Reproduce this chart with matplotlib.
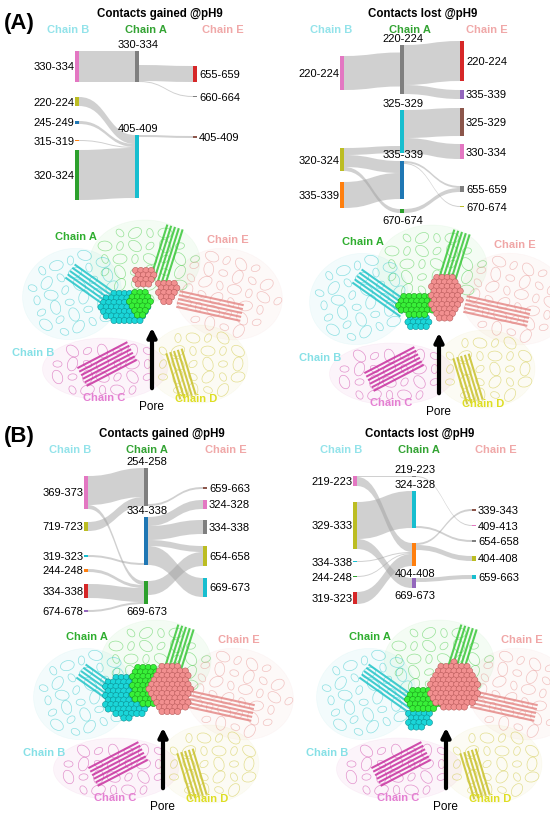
import matplotlib.pyplot as plt
from matplotlib.path import Path
from matplotlib.patches import PathPatch, Rectangle, Ellipse, Circle
import numpy as np

# ---------------- Sankey data: residue windows in contact ----------------
# (A) contacts gained @pH9
a_gain_src = ["B330-334", "A330-334", "A330-334", "B220-224", "B245-249",
              "B315-319", "B320-324", "A405-409"]
a_gain_dst = ["A330-334", "E655-659", "E660-664", "A405-409", "A405-409",
              "A405-409", "A405-409", "E405-409"]
a_gain_val = [31, 16, 1, 9, 3, 1, 50, 2]

# (A) contacts lost @pH9
a_lost_src = ["B220-224", "A220-224", "A220-224", "B320-324", "B320-324",
              "B320-324", "B335-339", "A325-329", "A325-329", "A335-339",
              "A335-339", "A670-674"]
a_lost_dst = ["A220-224", "E220-224", "E335-339", "A325-329", "A335-339",
              "A670-674", "A335-339", "E325-329", "E330-334", "E655-659",
              "E670-674", "E655-659"]
a_lost_val = [34, 40, 9, 7, 12, 4, 26, 28, 15, 2, 1, 4]

# (B) contacts gained @pH9
b_gain_src = ["B369-373", "B369-373", "B719-723", "A254-258", "B319-323",
              "B244-248", "B334-338", "B674-678", "A334-338", "A334-338",
              "A334-338", "A334-338", "A669-673"]
b_gain_dst = ["A254-258", "A669-673", "A254-258", "E659-663", "A334-338",
              "A669-673", "A669-673", "A669-673", "E324-328", "E334-338",
              "E654-658", "E669-673", "E654-658"]
b_gain_val = [29, 4, 9, 2, 2, 3, 14, 2, 9, 14, 6, 19, 14]

# (B) contacts lost @pH9
b_lost_src = ["B219-223", "B219-223", "B329-333", "B329-333", "B334-338",
              "B244-248", "B319-323", "A219-223", "A324-328", "A404-408",
              "A404-408", "A669-673"]
b_lost_dst = ["A219-223", "A404-408", "A324-328", "A669-673", "A404-408",
              "A404-408", "A404-408", "E409-413", "E654-658", "E339-343",
              "E404-408", "E659-663"]
b_lost_val = [1, 9, 37, 10, 1, 1, 12, 1, 2, 2, 5, 4]

# ---------------- layout (pixel positions, colours) ----------------
C10 = {"blue": "#1f77b4", "orange": "#ff7f0e", "green": "#2ca02c", "red": "#d62728",
       "purple": "#9467bd", "brown": "#8c564b", "pink": "#e377c2", "gray": "#7f7f7f",
       "olive": "#bcbd22", "cyan": "#17becf"}

# node: (top y, colour, label side)
a_gain_nodes = {
    "B330-334": (52, "pink", "L"), "B220-224": (98, "olive", "L"),
    "B245-249": (122, "blue", "L"), "B315-319": (141, "orange", "L"),
    "B320-324": (151, "green", "L"),
    "A330-334": (52, "gray", "T"), "A405-409": (136, "cyan", "T"),
    "E655-659": (67, "red", "R"), "E660-664": (97, "gray", "R"),
    "E405-409": (137, "brown", "R"),
}
a_lost_nodes = {
    "B220-224": (57, "pink", "L"), "B320-324": (149, "olive", "L"),
    "B335-339": (183, "orange", "L"),
    "A220-224": (46, "gray", "T"), "A325-329": (111, "cyan", "T"),
    "A335-339": (162, "blue", "T"), "A670-674": (210, "green", "B"),
    "E220-224": (42, "red", "R"), "E335-339": (91, "purple", "R"),
    "E325-329": (109, "brown", "R"), "E330-334": (145, "pink", "R"),
    "E655-659": (187, "gray", "R"), "E670-674": (207, "olive", "R"),
}
b_gain_nodes = {
    "B369-373": (477, "pink", "L"), "B719-723": (523, "olive", "L"),
    "B319-323": (556, "cyan", "L"), "B244-248": (570, "orange", "L"),
    "B334-338": (585, "red", "L"), "B674-678": (611, "purple", "L"),
    "A254-258": (469, "gray", "T"), "A334-338": (518, "blue", "T"),
    "A669-673": (582, "green", "B"),
    "E659-663": (488, "brown", "R"), "E324-328": (501, "pink", "R"),
    "E334-338": (521, "gray", "R"), "E654-658": (547, "olive", "R"),
    "E669-673": (579, "cyan", "R"),
}
b_lost_nodes = {
    "B219-223": (477, "pink", "L"), "B329-333": (503, "olive", "L"),
    "B334-338": (562, "cyan", "L"), "B244-248": (577, "green", "L"),
    "B319-323": (593, "red", "L"),
    "A219-223": (477, "gray", "T"), "A324-328": (492, "cyan", "T"),
    "A404-408": (544, "orange", "B"), "A669-673": (579, "purple", "B"),
    "E339-343": (510, "brown", "R"), "E409-413": (526, "pink", "R"),
    "E654-658": (541, "gray", "R"), "E404-408": (557, "olive", "R"),
    "E659-663": (576, "cyan", "R"),
}
# node-side alignment where the flows do not fill the bar
a_gain_align = {("A330-334", "out"): "bottom"}
a_lost_align = {("A220-224", "in"): "center", ("A325-329", "in"): "bottom"}
b_gain_align = {("A254-258", "out"): "bottom", ("A334-338", "in"): "bottom"}
b_lost_align = {("A324-328", "out"): "bottom"}

HEAD_COLORS = {"B": "#93e3ea", "A": "#33a333", "E": "#f0a8a8"}
FONT = "Liberation Sans"


def band(ax, x0, y0a, y0b, x1, y1a, y1b):
    xm = (x0 + x1) / 2
    verts = [(x0, y0a), (xm, y0a), (xm, y1a), (x1, y1a),
             (x1, y1b), (xm, y1b), (xm, y0b), (x0, y0b), (x0, y0a)]
    codes = [Path.MOVETO, Path.CURVE4, Path.CURVE4, Path.CURVE4,
             Path.LINETO, Path.CURVE4, Path.CURVE4, Path.CURVE4, Path.CLOSEPOLY]
    ax.add_patch(PathPatch(Path(verts, codes), facecolor="#a2a2a2", alpha=0.5,
                           edgecolor="none", zorder=1))


def sankey(ax, src, dst, val, nodes, align, colx, title, tx, heads, hy):
    col = {"B": colx[0], "A": colx[1], "E": colx[2]}
    s_in = {n: 0 for n in nodes}
    s_out = {n: 0 for n in nodes}
    for s, d, v in zip(src, dst, val):
        s_out[s] += v
        s_in[d] += v
    height = {n: max(s_in[n], s_out[n]) for n in nodes}

    def start(n, side, tot):
        top = nodes[n][0]
        extra = height[n] - tot
        mode = align.get((n, side), "top")
        if mode == "bottom":
            return top + extra
        if mode == "center":
            return top + extra / 2
        return top

    out_pos = {n: start(n, "out", s_out[n]) for n in nodes}
    in_pos = {n: start(n, "in", s_in[n]) for n in nodes}
    seg_out = {}
    for i in sorted(range(len(val)), key=lambda i: nodes[dst[i]][0]):
        s = src[i]
        seg_out[i] = out_pos[s]
        out_pos[s] += val[i]
    seg_in = {}
    for i in sorted(range(len(val)), key=lambda i: nodes[src[i]][0]):
        d = dst[i]
        seg_in[i] = in_pos[d]
        in_pos[d] += val[i]
    for i in range(len(val)):
        x0 = col[src[i][0]] + 2
        x1 = col[dst[i][0]] - 2
        band(ax, x0, seg_out[i], seg_out[i] + val[i],
             x1, seg_in[i], seg_in[i] + val[i])

    for n, (top, c, side) in nodes.items():
        x = col[n[0]]
        h = max(height[n], 1.3)
        ax.add_patch(Rectangle((x - 2, top), 4, h, facecolor=C10[c],
                               edgecolor="none", zorder=3))
        lab = n[1:]
        if side == "L":
            ax.text(x - 2.5, top + h / 2, lab, ha="right", va="center",
                    fontsize=8, family=FONT, zorder=4)
        elif side == "R":
            ax.text(x + 4, top + h / 2, lab, ha="left", va="center",
                    fontsize=8, family=FONT, zorder=4)
        elif side == "T":
            ax.text(x + 1, top - 7, lab, ha="center", va="center",
                    fontsize=8, family=FONT, zorder=4)
        else:
            ax.text(x + 1, top + h + 7, lab, ha="center", va="center",
                    fontsize=8, family=FONT, zorder=4)

    ax.text(tx, hy - 16, title, ha="center", va="center", fontsize=8.3,
            fontweight="bold", family=FONT)
    for k, hx in zip(["B", "A", "E"], heads):
        ax.text(hx, hy, "Chain " + k, ha="center", va="center", fontsize=8,
                fontweight="bold", color=HEAD_COLORS[k], family=FONT)


# ---------------- protein cartoon (schematic) ----------------
CHAIN_COL = {"A": "#39c739", "B": "#22c4c8", "C": "#c8309f", "D": "#c9c12a", "E": "#e58a88"}
CHAIN_LAB = {"A": "#2fae2f", "B": "#86e0e6", "C": "#e47fd2", "D": "#dede22", "E": "#f0a6a6"}
# lobe ellipses relative to pore: (dx, dy, w, h, angle)
LOBES = {"A": (-5, -58, 110, 82, 0), "B": (-78, -25, 100, 90, -20),
         "E": (78, -25, 110, 90, 15), "C": (-45, 50, 125, 62, 0),
         "D": (48, 45, 100, 78, 0)}
# strand bundles: (x0, y0, x1, y1, count)
STRANDS = {"A": (8, -38, 25, -92, 5), "B": (-80, -48, -32, -14, 5),
           "E": (28, -20, 92, -6, 5), "C": (-68, 58, -18, 32, 6),
           "D": (24, 32, 38, 78, 5)}
LAB_POS = {"A": (-74, -83), "E": (78, -80), "B": (-117, 33), "C": (-46, 78), "D": (46, 79)}
SPHERE_COL = {"B": ("#1ad6d9", "#0d8f92"), "A": ("#38f038", "#1a9a1a"), "E": ("#f29090", "#b85a5a")}

# sphere clusters per structure: chain -> list of (dx, dy, rx, ry)
a_gain_spheres = {"B": [(-25, -12, 24, 18)], "A": [(-10, -17, 13, 14)],
                  "E": [(-5, -43, 12, 10), (17, -28, 11, 12)]}
a_lost_spheres = {"B": [(-17, -2, 12, 9)], "A": [(-19, -20, 22, 12)],
                  "E": [(8, -27, 16, 24)]}
b_gain_spheres = {"B": [(-34, -23, 24, 23)], "A": [(-14, -34, 17, 22)],
                  "E": [(9, -30, 21, 27)]}
b_lost_spheres = {"B": [(-25, 0, 13, 10)], "A": [(-19, -20, 20, 13)],
                  "E": [(10, -33, 26, 24)]}


def structure(ax, px, py, spheres):
    for k, (dx, dy, w, h, ang) in LOBES.items():
        c = CHAIN_COL[k]
        ax.add_patch(Ellipse((px + dx, py + dy), w, h, angle=ang, facecolor=c,
                             alpha=0.05, edgecolor=c, lw=0.5, zorder=1))
        # loopy coil texture on a grid inside the lobe
        t = np.radians(ang)
        for gy in np.arange(-h / 2, h / 2 + 0.1, 13):
            for gx in np.arange(-w / 2, w / 2 + 0.1, 15):
                if (2 * gx / w) ** 2 + (2 * gy / h) ** 2 > 0.85:
                    continue
                x = px + dx + gx * np.cos(t) - gy * np.sin(t)
                y = py + dy + gx * np.sin(t) + gy * np.cos(t)
                rr = 4.5 + 2.5 * ((int(gx + gy) // 3) % 2)
                ax.add_patch(Ellipse((x, y), 2 * rr, 1.4 * rr, angle=(gx * 7 + gy * 5) % 180,
                                     facecolor="none", edgecolor=c, alpha=0.5,
                                     lw=0.5, zorder=1))
    for k, (x0, y0, x1, y1, n) in STRANDS.items():
        v = np.array([x1 - x0, y1 - y0], float)
        nrm = np.array([-v[1], v[0]]) / np.hypot(*v)
        for j in range(n):
            o = nrm * 4 * (j - (n - 1) / 2)
            ax.plot([px + x0 + o[0], px + x1 + o[0]], [py + y0 + o[1], py + y1 + o[1]],
                    color=CHAIN_COL[k], lw=1.5, alpha=0.85, solid_capstyle="butt", zorder=2)
    for k in ["B", "A", "E"]:
        fc, ec = SPHERE_COL[k]
        for (dx, dy, rx, ry) in spheres[k]:
            pts = []
            for gy in np.arange(-ry, ry + 0.1, 4.5):
                shift = 2.6 if int(round((gy + ry) / 4.5)) % 2 else 0
                for gx in np.arange(-rx + shift, rx + 0.1, 5.2):
                    if (gx / rx) ** 2 + (gy / ry) ** 2 <= 1.0:
                        pts.append((px + dx + gx, py + dy + gy))
            for (x, y) in sorted(pts, key=lambda p: p[1]):
                ax.add_patch(Circle((x, y), 3.1, facecolor=fc, edgecolor=ec,
                                    lw=0.4, zorder=5))
    for k, (dx, dy) in LAB_POS.items():
        ax.text(px + dx, py + dy, "Chain " + k, ha="center", va="center", fontsize=8,
                fontweight="bold", color=CHAIN_LAB[k], family=FONT, zorder=6)
    ax.annotate("", xy=(px + 2, py + 6), xytext=(px + 2, py + 72),
                arrowprops=dict(arrowstyle="-|>", lw=3, color="black",
                                mutation_scale=13), zorder=7)
    ax.text(px + 1, py + 87, "Pore", ha="center", va="center", fontsize=8.5,
            family=FONT, zorder=7)


fig = plt.figure(figsize=(5.5, 8.2), dpi=100)
ax = fig.add_axes([0, 0, 1, 1])
ax.set_xlim(0, 550)
ax.set_ylim(820, 0)
ax.axis("off")

sankey(ax, a_gain_src, a_gain_dst, a_gain_val, a_gain_nodes, a_gain_align,
       (77, 137, 195), "Contacts gained @pH9", 160, (68, 146, 223), 30)
sankey(ax, a_lost_src, a_lost_dst, a_lost_val, a_lost_nodes, a_lost_align,
       (342, 402, 462), "Contacts lost @pH9", 423, (331, 410, 487), 30)
sankey(ax, b_gain_src, b_gain_dst, b_gain_val, b_gain_nodes, b_gain_align,
       (86, 146, 205), "Contacts gained @pH9", 162, (70, 147, 226), 450)
sankey(ax, b_lost_src, b_lost_dst, b_lost_val, b_lost_nodes, b_lost_align,
       (355, 414, 474), "Contacts lost @pH9", 420, (341, 419, 496), 450)

structure(ax, 150, 320, a_gain_spheres)
structure(ax, 437, 325, a_lost_spheres)
structure(ax, 161, 720, b_gain_spheres)
structure(ax, 444, 720, b_lost_spheres)

ax.text(4, 23, "(A)", ha="left", va="center", fontsize=16, fontweight="bold", family=FONT)
ax.text(4, 437, "(B)", ha="left", va="center", fontsize=16, fontweight="bold", family=FONT)

fig.savefig("out.png", dpi=100)
